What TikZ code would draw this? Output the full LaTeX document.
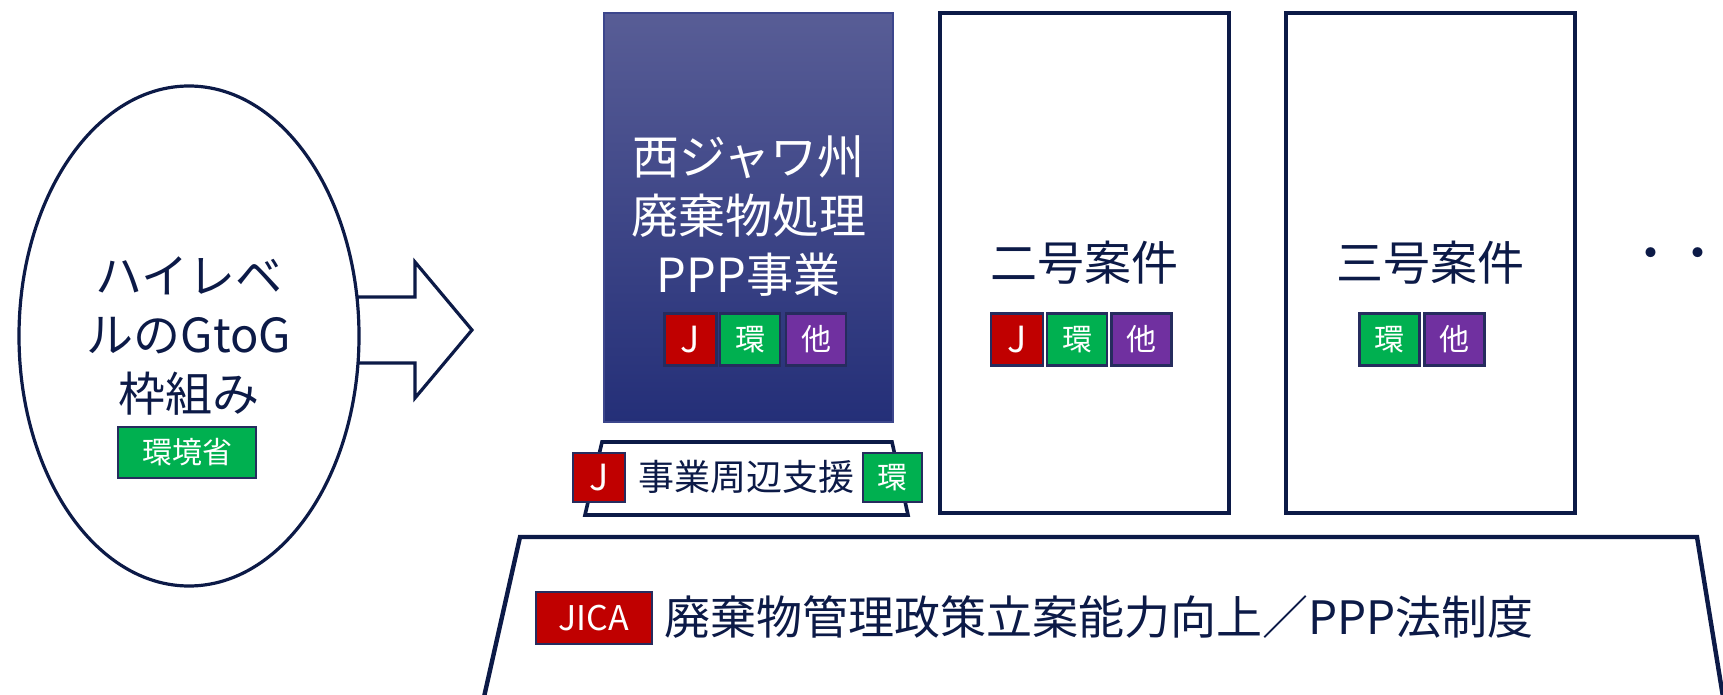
\documentclass[tikz,border=0pt]{standalone}
\usepackage{fontspec}
\setmainfont{Noto Sans CJK JP}
\usetikzlibrary{shapes.geometric}
\definecolor{navy}{RGB}{12,26,71}
\definecolor{gtop}{RGB}{88,93,150}
\definecolor{gbot}{RGB}{36,47,120}
\definecolor{gedge}{RGB}{60,70,140}
\definecolor{jred}{RGB}{192,0,0}
\definecolor{jgreen}{RGB}{0,176,80}
\definecolor{jpurple}{RGB}{112,48,160}
\definecolor{bborder}{RGB}{38,44,94}
\begin{document}
\begin{tikzpicture}[x=0.5pt,y=-0.5pt,
  outl/.style={draw=navy,line width=1.6pt,fill=white},
  badge/.style={draw=bborder,line width=1.2pt,inner sep=0pt,text=white,minimum height=26pt,font=\fontsize{15}{15}\selectfont},
  jb/.style={badge,fill=jred,minimum width=26pt,font=\fontsize{18}{18}\selectfont},
  gb/.style={badge,fill=jgreen,minimum width=30pt},
  pb/.style={badge,fill=jpurple,minimum width=30pt},
  big/.style={font=\fontsize{23.5}{29.5}\selectfont,align=center},
  casebox/.style={outl,line width=1.8pt,minimum width=144.5pt,minimum height=250pt,inner sep=0pt}
]
\useasboundingbox (0,0) rectangle (1723,695);

% bottom trapezoid
\draw[draw=navy,line width=2.2pt,fill=white] (484,697) -- (520,537) -- (1697,537) -- (1723,697);
\node[jb,minimum width=58pt,minimum height=26pt,font=\fontsize{17}{17}\selectfont] (jica) at (594,618) {JICA};
\node[anchor=west,text=navy,font=\fontsize{23}{23}\selectfont] (policy) at (657,617) {廃棄物管理政策立案能力向上／PPP法制度};

% arrow
\draw[outl] (357,297) -- (415,297) -- (415,262) -- (472,330) -- (415,398) -- (415,363) -- (357,363) -- cycle;

% ellipse
\node[ellipse,outl,minimum width=170pt,minimum height=250pt] (ell) at (189,336) {};
\node[big,text=navy] (ell-t) at (189,336) {ハイレベ\\ルのGtoG\\枠組み};
\node[badge,fill=jgreen,minimum width=69pt,minimum height=25.5pt] (moe) at (187,452.5) {環境省};

% main project box
\node[draw=gedge,line width=0.8pt,top color=gtop,bottom color=gbot,minimum width=144.5pt,minimum height=204.5pt,inner sep=0pt] (ppp) at (748.5,217.5) {};
\node[big,text=white] (ppp-t) at (748.5,216) {西ジャワ州\\廃棄物処理\\PPP事業};
\node[jb] (ppp-j) at (690.5,339.5) {J};
\node[gb] (ppp-g) at (750,339.5) {環};
\node[pb] (ppp-p) at (816,339.5) {他};

% support trapezoid
\draw[draw=navy,line width=1.8pt,fill=white] (602,442) -- (892,442) -- (908,515) -- (585,515) -- cycle;
\node[text=navy,font=\fontsize{18}{18}\selectfont] (supp) at (746,477) {事業周辺支援};
\node[jb,minimum height=24.5pt] (supp-j) at (599,477.5) {J};
\node[gb,minimum height=24.5pt,minimum width=29.5pt] (supp-g) at (892.5,477.5) {環};

% case 2
\node[casebox] (c2) at (1084.5,263) {};
\node[big,text=navy] (c2-t) at (1084.5,263) {二号案件};
\node[jb] (c2-j) at (1017,339.5) {J};
\node[gb] (c2-g) at (1077,339.5) {環};
\node[pb] (c2-p) at (1141.5,339.5) {他};

% case 3
\node[casebox] (c3) at (1430.5,263) {};
\node[big,text=navy] (c3-t) at (1430.5,263) {三号案件};
\node[gb] (c3-g) at (1389.5,339.5) {環};
\node[pb] (c3-p) at (1454.5,339.5) {他};

% dots
\node[text=navy,font=\fontsize{23.5}{23.5}\selectfont] (dots) at (1674,259) {・・};
\end{tikzpicture}
\end{document}
